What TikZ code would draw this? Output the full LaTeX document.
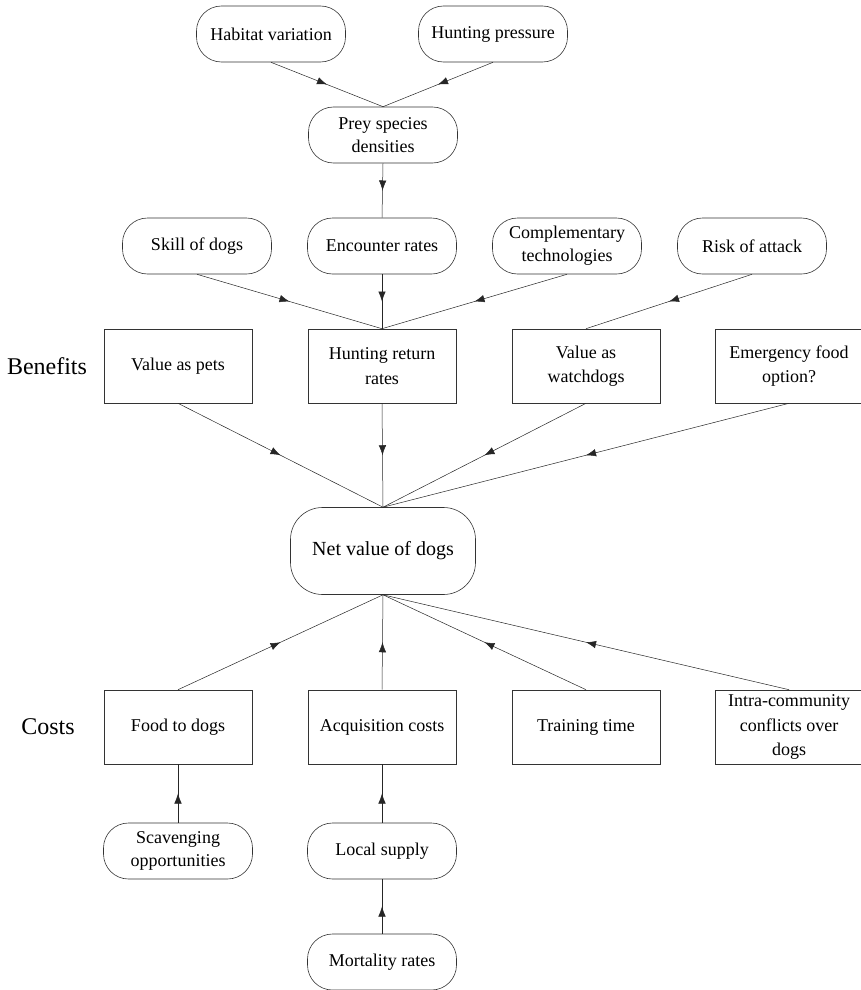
\documentclass[tikz,border=0pt]{standalone}
\usepackage{fontspec}
\setmainfont{Liberation Serif}
\usepackage{tikz}
\usetikzlibrary{arrows.meta,decorations.markings}

\tikzset{
  factor/.style={draw=black!80, line width=0.6pt, rectangle, rounded corners=25pt,
    minimum width=149pt, minimum height=56pt, align=center,
    font=\fontsize{18}{23}\selectfont},
  item/.style={draw=black!80, line width=0.6pt, rectangle,
    minimum width=148pt, minimum height=74pt, align=center,
    font=\fontsize{18}{24.5}\selectfont},
  flow/.style={line width=0.5pt, draw=black!85,
    decoration={markings, mark=at position 0.5 with {\arrow{Latex[length=10pt,width=7.5pt]}}},
    postaction={decorate}},
  side/.style={font=\fontsize{24}{28}\selectfont}
}

\begin{document}
\begin{tikzpicture}[x=1pt,y=-1pt]
\useasboundingbox (0,0) rectangle (860,990);

% Top drivers
\node[factor] (hab) at (271,34) {Habitat variation};
\node[factor] (hunt) at (493,34) {Hunting pressure};
\node[factor] (prey) at (383,135) {Prey species\\densities};

% Second row
\node[factor] (skill) at (197,246) {Skill of dogs};
\node[factor] (enc) at (382,246) {Encounter rates};
\node[factor] (comp) at (567,246) {Complementary\\technologies};
\node[factor] (risk) at (752,246) {Risk of attack};

% Benefits
\node[side] (ben) at (47,366) {Benefits};
\node[item] (pets) at (178,366) {Value as pets};
\node[item] (hret) at (382,366) {Hunting return\\rates};
\node[item] (watch) at (586,366) {Value as\\watchdogs};
\node[item] (emerg) at (789,366) {Emergency food\\option?};

% Net value
\node[draw=black!80, line width=0.6pt, rounded corners=32pt, minimum width=185pt,
  minimum height=87pt, font=\fontsize{20}{24}\selectfont] (net) at (383,551) {Net value of dogs};

% Costs
\node[side] (cost) at (48,727) {Costs};
\node[item] (food) at (178,727) {Food to dogs};
\node[item] (acq) at (382,727) {Acquisition costs};
\node[item] (train) at (586,727) {Training time};
\node[item] (conf) at (789,727) {Intra-community\\conflicts over\\dogs};

% Lower drivers
\node[factor] (scav) at (178,851) {Scavenging\\opportunities};
\node[factor] (supply) at (382,851) {Local supply};
\node[factor] (mort) at (382,962) {Mortality rates};

% Connectors
\draw[flow] (hab.south) -- (prey.north);
\draw[flow] (hunt.south) -- (prey.north);
\draw[flow] (prey.south) -- (enc.north);

\draw[flow] (skill.south) -- (hret.north);
\draw[flow] (enc.south) -- (hret.north);
\draw[flow] (comp.south) -- (hret.north);
\draw[flow] (risk.south) -- (watch.north);

\foreach \b in {pets,hret,watch,emerg}
  \draw[flow] (\b.south) -- (net.north);
\foreach \c in {food,acq,train,conf}
  \draw[flow] (\c.north) -- (net.south);

\draw[flow] (scav.north) -- (food.south);
\draw[flow] (supply.north) -- (acq.south);
\draw[flow] (mort.north) -- (supply.south);
\end{tikzpicture}
\end{document}
